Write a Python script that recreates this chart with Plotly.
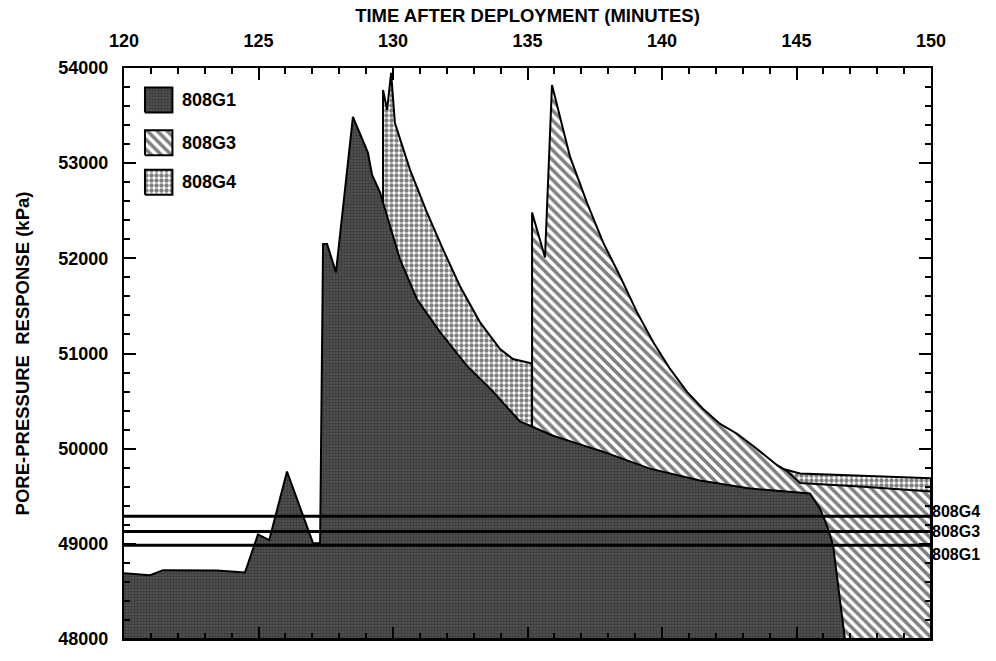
import plotly.graph_objects as go

# ---------------- data ----------------
g1_time = [120.0, 120.97, 121.45, 123.46, 124.5, 124.98, 125.4, 126.06, 127.03, 127.29,
           127.4, 127.55, 127.88, 128.51, 129.07, 129.22, 129.52, 130.26, 130.89, 131.75,
           132.75, 133.72, 134.72, 135.95, 137.21, 137.7, 139.55, 141.41, 143.27, 145.13,
           145.5, 145.87, 146.17, 146.36, 146.8]
g1_pressure = [48690, 48670, 48723, 48720, 48700, 49100, 49040, 49760, 49005, 49005,
               52150, 52150, 51853, 53487, 53110, 52880, 52690, 51990, 51570, 51225,
               50870, 50600, 50285, 50136, 50021, 49979, 49790, 49665, 49581, 49540,
               49529, 49372, 49162, 48984, 48000]

g3_time = [135.17, 135.17, 135.65, 135.91, 136.58, 137.21, 137.81, 138.44, 139.07, 139.67,
           140.3, 140.93, 141.52, 142.16, 142.79, 143.38, 144.28, 144.65, 145.13, 147.5, 150.0]
g3_pressure = [48000, 52482, 52010, 53822, 53068, 52586, 52167, 51812, 51435, 51120,
               50838, 50597, 50419, 50260, 50157, 50031, 49826, 49765, 49640, 49600, 49550]

g4_time = [129.63, 129.63, 129.78, 129.93, 130.07, 130.63, 131.26, 131.86, 132.49, 133.23,
           133.98, 134.46, 135.09, 137.0, 140.0, 142.5, 144.65, 145.13, 150.0]
g4_pressure = [48000, 53770, 53560, 53948, 53424, 52932, 52482, 52094, 51707, 51330,
               51047, 50942, 50900, 50500, 50100, 49900, 49775, 49740, 49690]

baseline_names = ["808G4", "808G3", "808G1"]
baseline_values = [49290, 49130, 48985]

legend_names = ["808G1", "808G3", "808G4"]

x_ticks = [120, 125, 130, 135, 140, 145, 150]
y_ticks = [48000, 49000, 50000, 51000, 52000, 53000, 54000]
y_floor = 48000

# ---------------- styling ----------------
FONT = "Liberation Sans, Arial, Helvetica, sans-serif"
PATTERNS = {
    "808G1": dict(shape=".", bgcolor="#555555", fgcolor="#1e1e1e", size=3, solidity=0.5),
    "808G3": dict(shape="\\", bgcolor="white", fgcolor="black", size=7, solidity=0.5),
    "808G4": dict(shape=".", bgcolor="white", fgcolor="black", size=5, solidity=0.6),
}
# label offsets (px) so the three right-hand labels sit as in the original
LABEL_SHIFT = {"808G4": 5, "808G3": 0, "808G1": -9}
# legend layout in paper fractions of the plot area: swatch box and row centres
LEG_X0, LEG_X1, LEG_H = 0.026, 0.060, 0.044
LEG_ROWS = [0.944, 0.869, 0.800]
LEG_TEXT_X = 0.070


def polygon(xs, ys):
    return list(xs) + [xs[-1], xs[0]], list(ys) + [y_floor, y_floor]


fig = go.Figure()

for name, xs, ys in [("808G4", g4_time, g4_pressure),
                     ("808G3", g3_time, g3_pressure),
                     ("808G1", g1_time, g1_pressure)]:
    px, py = polygon(xs, ys)
    pat = PATTERNS[name]
    fig.add_trace(go.Scatter(
        x=px, y=py, name=name, mode="lines", fill="toself",
        fillpattern=pat, fillcolor=pat["bgcolor"],
        line=dict(color="black", width=2), showlegend=False, hoverinfo="skip"))

for name, val in zip(baseline_names, baseline_values):
    fig.add_trace(go.Scatter(
        x=[x_ticks[0], x_ticks[-1]], y=[val, val], mode="lines",
        line=dict(color="black", width=3), showlegend=False, hoverinfo="skip"))
    fig.add_annotation(x=x_ticks[-1], y=val, xref="x", yref="y", text=name,
                       showarrow=False, xanchor="left", yanchor="middle", xshift=0,
                       yshift=LABEL_SHIFT[name], borderpad=0,
                       font=dict(family=FONT, size=16, color="black", weight="bold"))

# hand-drawn legend (large patterned swatches) on a hidden 0..1 overlay axis
for name, yc in zip(legend_names, LEG_ROWS):
    pat = PATTERNS[name]
    fig.add_trace(go.Scatter(
        x=[LEG_X0, LEG_X1, LEG_X1, LEG_X0, LEG_X0],
        y=[yc - LEG_H / 2, yc - LEG_H / 2, yc + LEG_H / 2, yc + LEG_H / 2, yc - LEG_H / 2],
        xaxis="x2", yaxis="y2", mode="lines", fill="toself",
        fillpattern=pat, fillcolor=pat["bgcolor"],
        line=dict(color="black", width=2), showlegend=False, hoverinfo="skip"))
    fig.add_annotation(x=LEG_TEXT_X, y=yc, xref="x2", yref="y2", text=name,
                       showarrow=False, xanchor="left", yanchor="middle",
                       font=dict(family=FONT, size=18, color="black", weight="bold"))

fig.update_layout(
    width=996, height=661,
    margin=dict(l=124, r=65, t=68, b=19),
    paper_bgcolor="white", plot_bgcolor="white",
    font=dict(family=FONT, size=18, color="black", weight="bold"),
    showlegend=False,
    xaxis2=dict(overlaying="x", range=[0, 1], visible=False, fixedrange=True),
    yaxis2=dict(overlaying="y", range=[0, 1], visible=False, fixedrange=True),
)

fig.update_layout(xaxis=dict(
    side="top", range=[120, 150], tickvals=x_ticks,
    ticks="inside", ticklen=12, tickwidth=2, tickcolor="black",
    minor=dict(dtick=1, ticks="inside", ticklen=6, tickwidth=2, tickcolor="black"),
    showline=True, linewidth=2, linecolor="black", mirror="ticks",
    showgrid=False, zeroline=False, ticklabelstandoff=12,
    tickfont=dict(family=FONT, size=18, weight="bold"),
    title=dict(text="TIME AFTER DEPLOYMENT (MINUTES)", standoff=3,
               font=dict(family=FONT, size=18.5, weight="bold")),
))

fig.update_layout(yaxis=dict(
    range=[48000, 54000], tickvals=y_ticks, tickformat="d",
    ticks="inside", ticklen=12, tickwidth=2, tickcolor="black",
    minor=dict(dtick=200, ticks="inside", ticklen=6, tickwidth=2, tickcolor="black"),
    showline=True, linewidth=2, linecolor="black", mirror="ticks",
    showgrid=False, zeroline=False, ticklabelstandoff=10,
    tickfont=dict(family=FONT, size=18, weight="bold"),
    title=dict(text="PORE-PRESSURE  RESPONSE (kPa)", standoff=24,
               font=dict(family=FONT, size=18.5, weight="bold")),
))

fig.write_html("out.html")
